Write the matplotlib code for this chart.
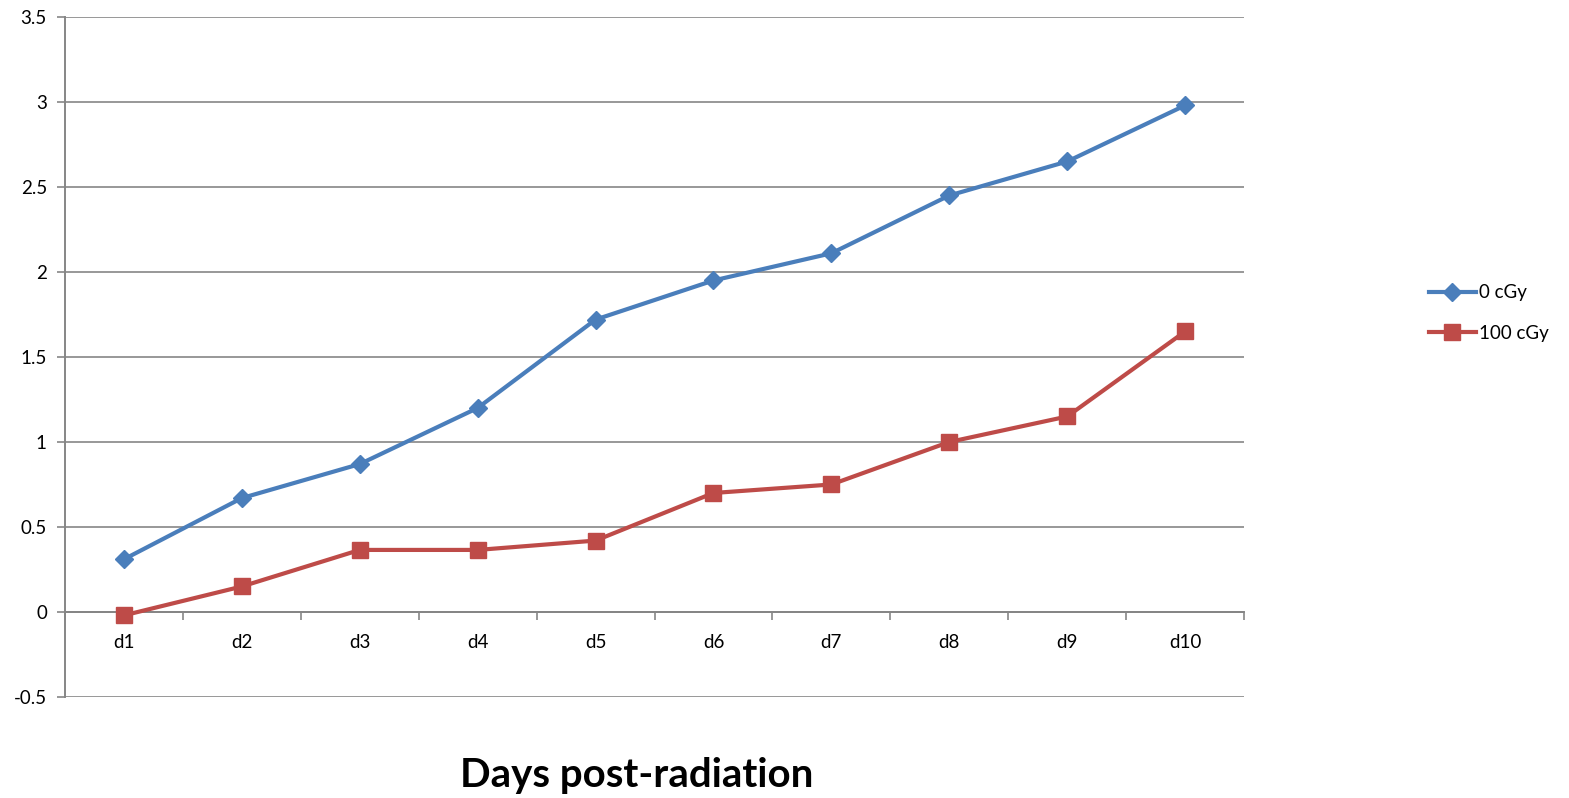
import matplotlib
matplotlib.use("Agg")
from matplotlib import pyplot as plt
from matplotlib.ticker import FixedLocator, NullFormatter

# daily readings for the two dose groups
days = ["d1", "d2", "d3", "d4", "d5", "d6", "d7", "d8", "d9", "d10"]
dose_0 = [0.31, 0.67, 0.87, 1.20, 1.72, 1.95, 2.11, 2.45, 2.65, 2.98]
dose_100 = [-0.02, 0.15, 0.365, 0.365, 0.42, 0.70, 0.75, 1.00, 1.15, 1.65]
y_ticks = [-0.5, 0, 0.5, 1, 1.5, 2, 2.5, 3, 3.5]

plt.rcParams["font.family"] = ["Lato", "DejaVu Sans"]
grey = "#868686"

fig = plt.figure(figsize=(15.69, 7.98), dpi=100)
ax = fig.add_axes([0.0414, 0.1266, 0.7515, 0.8521])

x = list(range(1, len(days) + 1))
ax.plot(x, dose_0, color="#4A7EBB", linewidth=3, marker="D", markersize=9.5,
        markerfacecolor="#4A7EBB", markeredgecolor="#4A7EBB", label="0 cGy", zorder=4)
ax.plot(x, dose_100, color="#BE4B48", linewidth=3, marker="s", markersize=11.5,
        markerfacecolor="#BE4B48", markeredgecolor="#BE4B48", label="100 cGy", zorder=4)

ax.set_xlim(0.5, len(days) + 0.5)
ax.set_ylim(-0.5, 3.5)

# y axis with outward ticks and horizontal grid
ax.set_yticks(y_ticks)
ax.set_yticklabels(["-0.5", "0", "0.5", "1", "1.5", "2", "2.5", "3", "3.5"])
ax.yaxis.grid(True, color=grey, linewidth=1.2)
ax.set_axisbelow(True)
ax.tick_params(axis="y", length=6, width=1.2, color=grey, labelsize=13.5, pad=7)

# category axis sits on y = 0, ticks between categories
for side in ("top", "right"):
    ax.spines[side].set_visible(False)
ax.spines["left"].set_color(grey)
ax.spines["left"].set_linewidth(1.4)
ax.spines["bottom"].set_position(("data", 0))
ax.spines["bottom"].set_color(grey)
ax.spines["bottom"].set_linewidth(1.4)
ax.xaxis.set_major_locator(FixedLocator([i + 0.5 for i in range(len(days) + 1)]))
ax.xaxis.set_major_formatter(NullFormatter())
ax.xaxis.set_minor_locator(FixedLocator(x))
ax.set_xticklabels(days, minor=True)
ax.tick_params(axis="x", which="major", length=6, width=1.2, color=grey, direction="out")
ax.tick_params(axis="x", which="minor", length=0, labelsize=13.5, pad=16)

fig.text(0.406, 0.0138, "Days post-radiation", fontsize=29, fontweight="bold",
         ha="center", va="baseline")

fig.legend(loc="center left", bbox_to_anchor=(0.906, 0.608), frameon=False,
           fontsize=13.5, handlelength=2.5, handletextpad=0.15, labelspacing=1.25,
           borderaxespad=0)

fig.savefig("out.png", dpi=100, facecolor="white")
